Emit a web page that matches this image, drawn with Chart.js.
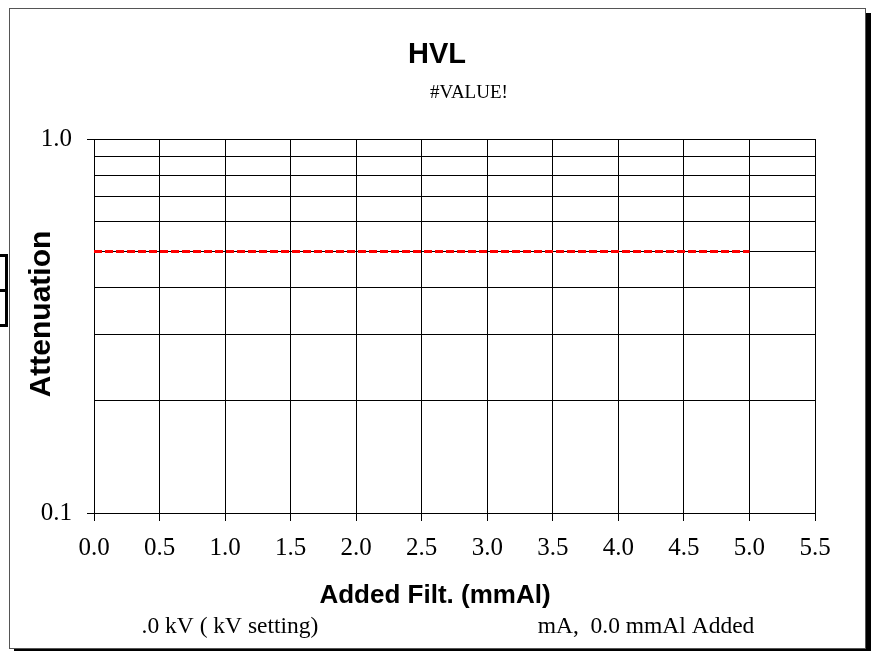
<!DOCTYPE html>
<html>
<head>
<meta charset="utf-8">
<script src="https://cdn.jsdelivr.net/npm/chart.js@4"></script>
<style>
html,body{margin:0;padding:0;background:#fff;}
#wrap{position:relative;width:876px;height:651px;}
</style>
</head>
<body>
<div id="wrap"><canvas id="c" width="876" height="651"></canvas></div>
<script>
// ---- data ----
const filtration = [0.0, 5.0];          // mmAl
const attenuation = [0.5, 0.5];         // half-value level line
const xTicks = [0.0,0.5,1.0,1.5,2.0,2.5,3.0,3.5,4.0,4.5,5.0,5.5];
const yTicks = [0.1,0.2,0.3,0.4,0.5,0.6,0.7,0.8,0.9,1.0];
const yLabelled = [0.1, 1.0];
const titleText = 'HVL';
const subtitleText = '#VALUE!';
const xTitle = 'Added Filt. (mmAl)';
const yTitle = 'Attenuation';
const footLeft = '.0 kV ( kV setting)';
const footRight = 'mA,  0.0 mmAl Added';

const isLab = v => yLabelled.some(l => Math.abs(l - v) < 1e-9);

const framePlugin = {
  id: 'frame',
  beforeDraw(chart) {
    const c = chart.ctx;
    c.save();
    c.fillStyle = '#fff';
    c.fillRect(0, 0, 876, 651);
    c.fillStyle = '#000';
    c.fillRect(14, 13, 857, 641);
    c.fillStyle = '#fff';
    c.fillRect(9, 8, 857, 641);
    c.strokeStyle = '#555';
    c.lineWidth = 1;
    c.strokeRect(9.5, 8.5, 856, 640);
    // partially visible legend box at left edge
    c.strokeStyle = '#000';
    c.lineWidth = 3;
    c.strokeRect(-60, 255.5, 66.5, 70);
    c.beginPath(); c.moveTo(-60, 290.5); c.lineTo(6, 290.5); c.stroke();
    c.restore();
  },
  afterDraw(chart) {
    const c = chart.ctx;
    c.save();
    c.fillStyle = '#000';
    c.textAlign = 'center';
    c.textBaseline = 'alphabetic';
    c.font = 'bold 29px "Liberation Sans", Arial, sans-serif';
    c.fillText(titleText, 437, 63);
    c.font = '19px "Liberation Serif", "Times New Roman", serif';
    c.fillText(subtitleText, 469, 98);
    c.font = 'bold 26px "Liberation Sans", Arial, sans-serif';
    c.fillText(xTitle, 435, 603);
    c.font = '23.5px "Liberation Serif", "Times New Roman", serif';
    c.fillText(footLeft, 230, 633);
    c.fillText(footRight, 646, 633);
    c.translate(50, 314);
    c.rotate(-Math.PI / 2);
    c.font = 'bold 30px "Liberation Sans", Arial, sans-serif';
    c.fillText(yTitle, 0, 0);
    c.restore();
  }
};

new Chart(document.getElementById('c'), {
  type: 'line',
  data: {
    datasets: [{
      data: filtration.map((x, i) => ({x: x, y: attenuation[i]})),
      borderColor: '#ff0000',
      borderWidth: 3,
      borderDash: [8, 3],
      pointRadius: 0,
      fill: false,
      tension: 0
    }]
  },
  options: {
    responsive: false,
    animation: false,
    devicePixelRatio: 1,
    layout: { padding: { left: 0, top: 139, right: 61, bottom: 0 } },
    plugins: { legend: { display: false }, tooltip: { enabled: false }, title: { display: false } },
    scales: {
      x: {
        type: 'linear',
        min: 0, max: 5.5,
        afterBuildTicks: s => { s.ticks = xTicks.map(v => ({value: v})); },
        afterFit: s => { s.height = 138; },
        grid: { color: '#000', lineWidth: 1, tickLength: 8, tickColor: '#000', drawTicks: true },
        border: { color: '#000', width: 1 },
        ticks: {
          color: '#000',
          padding: 12,
          maxRotation: 0,
          autoSkip: false,
          font: { family: '"Liberation Serif", "Times New Roman", serif', size: 25 },
          callback: v => Number(v).toFixed(1)
        }
      },
      y: {
        type: 'logarithmic',
        min: 0.1, max: 1.0,
        afterBuildTicks: s => { s.ticks = yTicks.map(v => ({value: v})); },
        afterFit: s => { s.width = 94; },
        grid: {
          color: '#000', lineWidth: 1, tickLength: 7, drawTicks: true,
          tickColor: ctx => (ctx.tick && isLab(ctx.tick.value)) ? '#000' : 'rgba(0,0,0,0)'
        },
        border: { color: '#000', width: 1 },
        ticks: {
          color: '#000',
          padding: 15,
          autoSkip: false,
          font: { family: '"Liberation Serif", "Times New Roman", serif', size: 25 },
          callback: v => isLab(v) ? Number(v).toFixed(1) : ''
        }
      }
    }
  },
  plugins: [framePlugin]
});
</script>
</body>
</html>
